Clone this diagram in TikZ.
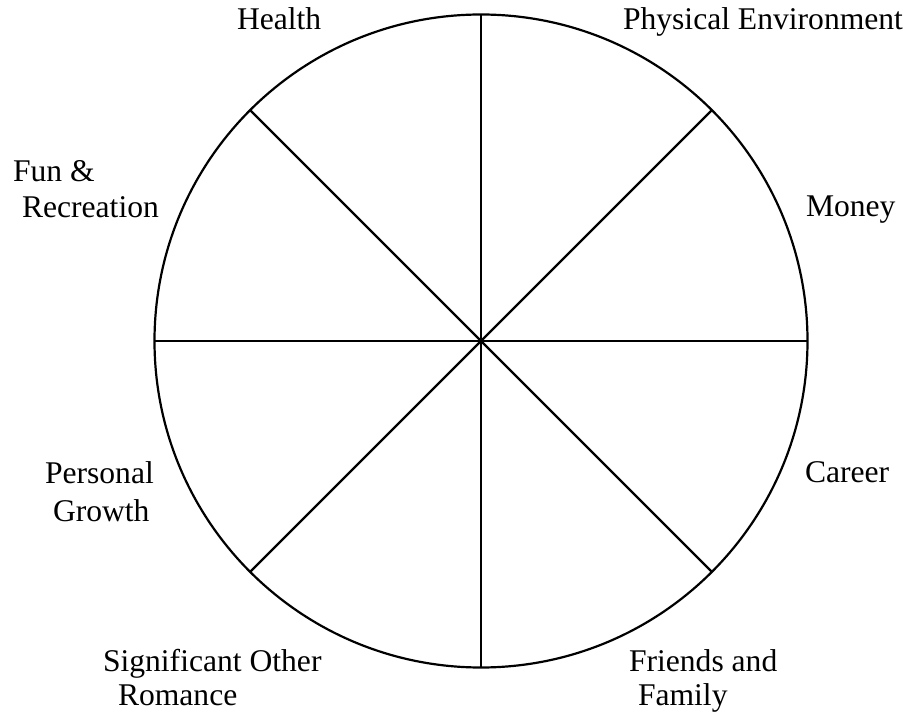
\documentclass[tikz,border=0pt]{standalone}
\usepackage{fontspec}
\setmainfont{Liberation Serif}
\begin{document}
\begin{tikzpicture}[x=1pt,y=-1pt,
  wheel/.style={line width=2.2pt, draw=black},
  lbl/.style={anchor=base west, inner sep=0pt, outer sep=0pt, font=\fontsize{31.6}{37}\selectfont}]
\useasboundingbox (0,0) rectangle (908,719);
\coordinate (c) at (481,341);
\draw[wheel] (c) circle [radius=326.5];
\foreach \a in {0,45,...,315} {
  \draw[wheel] (c) -- ++({326.5*cos(\a)},{326.5*sin(\a)});
}
\node[lbl] (health) at (237,30) {Health};
\node[lbl] (phys) at (623,30) {Physical Environment};
\node[lbl] (fun1) at (13,182) {Fun \&};
\node[lbl] (fun2) at (22,218) {Recreation};
\node[lbl] (money) at (806,217) {Money};
\node[lbl] (pers1) at (45,483) {Personal};
\node[lbl] (pers2) at (53,521) {Growth};
\node[lbl] (career) at (805,482) {Career};
\node[lbl] (sig1) at (103,671) {Significant Other};
\node[lbl] (sig2) at (118,705) {Romance};
\node[lbl] (fr1) at (629,671) {Friends and};
\node[lbl] (fr2) at (638,705) {Family};
\end{tikzpicture}
\end{document}
